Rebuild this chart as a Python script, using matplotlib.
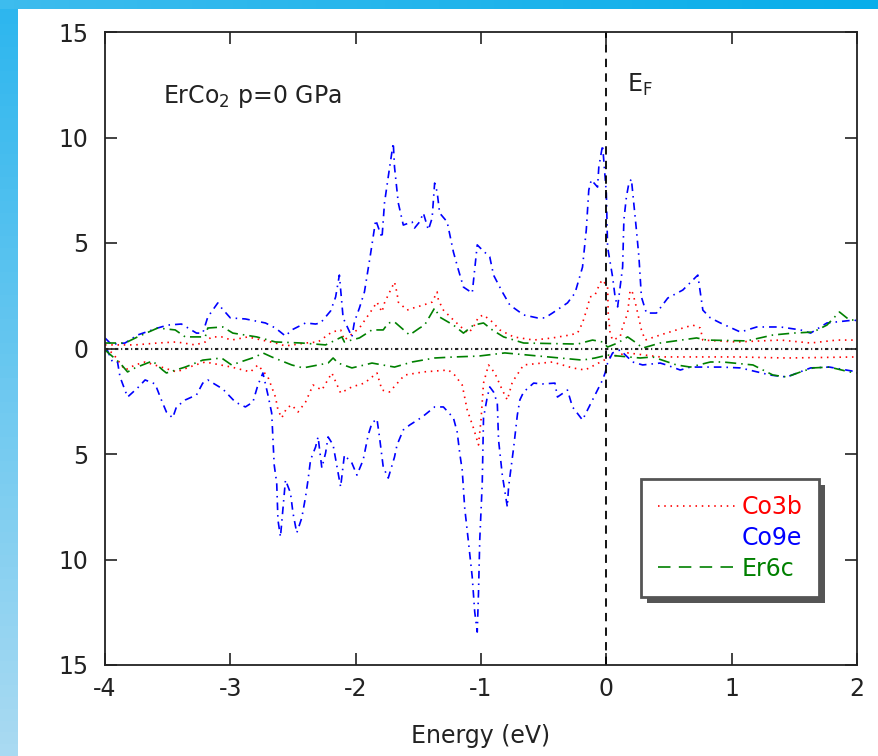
import numpy as np
import matplotlib
matplotlib.use("Agg")
import matplotlib.pyplot as plt
from matplotlib.lines import Line2D
from matplotlib.patches import Rectangle
from matplotlib.ticker import FuncFormatter

plt.rc('font', family='DejaVu Sans', size=17)
plt.rc('mathtext', default='regular')
plt.rc('lines', scale_dashes=False)
plt.rc('axes', unicode_minus=False)

# partial DOS, spin up (positive) and spin down (stored as magnitudes)
e_co9e_up = [-4.00, -3.95, -3.84, -3.74, -3.58, -3.50, -3.39, -3.27, -3.22, -3.18, -3.10, -3.07,
             -3.00, -2.88, -2.72, -2.64, -2.56, -2.51, -2.40, -2.32, -2.28, -2.20, -2.16, -2.13,
             -2.10, -2.03, -2.01, -1.97, -1.93, -1.88, -1.84, -1.79, -1.77, -1.73, -1.70, -1.69,
             -1.66, -1.62, -1.55, -1.53, -1.49, -1.46, -1.42, -1.39, -1.37, -1.35, -1.33, -1.27,
             -1.22, -1.18, -1.14, -1.07, -1.03, -0.99, -0.93, -0.90, -0.83, -0.77, -0.66, -0.55,
             -0.49, -0.43, -0.31, -0.25, -0.19, -0.16, -0.14, -0.12, -0.07, -0.06, -0.03, 0.00,
             0.01, 0.05, 0.07, 0.09, 0.13, 0.14, 0.16, 0.18, 0.20, 0.21, 0.24, 0.26, 0.28, 0.32,
             0.40, 0.49, 0.61, 0.73, 0.77, 0.83, 0.91, 1.07, 1.20, 1.39, 1.55, 1.63, 1.76, 1.98, 2.00]
co9e_up = [0.50, 0.20, 0.26, 0.64, 0.97, 1.11, 1.16, 0.73, 0.73, 1.49, 2.16, 1.92,
           1.45, 1.40, 1.21, 0.97, 0.59, 0.88, 1.21, 1.16, 1.21, 1.78, 2.44, 3.48,
           1.45, 0.55, 1.26, 1.92, 2.68, 4.53, 6.09, 5.24, 6.90, 8.55, 9.74, 8.60,
           6.90, 5.85, 6.00, 5.71, 6.00, 6.42, 5.62, 6.18, 7.84, 7.42, 6.42, 6.00,
           4.57, 3.72, 2.91, 2.63, 4.91, 4.67, 4.34, 3.48, 2.68, 2.06, 1.59, 1.45,
           1.45, 1.68, 2.16, 2.63, 3.86, 5.62, 7.51, 7.99, 7.65, 8.60, 9.64, 7.37,
           4.81, 3.39, 2.44, 1.97, 3.86, 6.09, 7.18, 7.84, 8.03, 7.42, 5.62, 4.34, 2.44, 1.68,
           1.68, 2.39, 2.77, 3.48, 1.82, 1.45, 1.21, 0.78, 1.02, 1.02, 0.88, 0.73, 1.21, 1.35, 1.30]

e_co9e_dn = [-4.00, -3.98, -3.94, -3.90, -3.88, -3.82, -3.74, -3.68, -3.60, -3.55, -3.51, -3.46,
             -3.43, -3.36, -3.27, -3.22, -3.18, -3.06, -2.96, -2.88, -2.82, -2.78, -2.74, -2.70,
             -2.67, -2.65, -2.63, -2.62, -2.60, -2.56, -2.52, -2.50, -2.47, -2.43, -2.40, -2.38,
             -2.36, -2.32, -2.30, -2.27, -2.24, -2.22, -2.18, -2.14, -2.12, -2.09, -2.03, -1.99,
             -1.94, -1.90, -1.87, -1.83, -1.81, -1.78, -1.74, -1.69, -1.67, -1.62, -1.57, -1.47,
             -1.37, -1.30, -1.22, -1.19, -1.17, -1.15, -1.13, -1.10, -1.07, -1.05, -1.03, -1.02,
             -1.01, -0.99, -0.98, -0.95, -0.93, -0.90, -0.87, -0.86, -0.83, -0.79, -0.78, -0.74,
             -0.71, -0.69, -0.66, -0.58, -0.51, -0.41, -0.39, -0.31, -0.27, -0.19, -0.15, -0.09,
             -0.03, -0.01, 0.01, 0.05, 0.11, 0.21, 0.29, 0.43, 0.48, 0.59, 0.67, 0.91, 1.07,
             1.31, 1.44, 1.63, 1.78, 2.00]
co9e_dn = [0.10, 0.10, 0.64, 0.64, 1.35, 2.30, 1.87, 1.49, 1.68, 2.44, 3.01, 3.29,
           2.77, 2.44, 2.20, 1.64, 1.49, 1.92, 2.54, 2.77, 2.54, 1.73, 1.16, 2.20,
           3.06, 5.52, 6.37, 8.13, 8.93, 6.23, 6.85, 7.80, 8.74, 8.03, 7.04, 6.23,
           5.28, 4.67, 4.19, 5.66, 4.95, 4.19, 4.57, 5.90, 6.56, 5.05, 5.43, 6.00,
           5.28, 4.10, 3.53, 3.34, 4.19, 5.62, 6.14, 5.14, 4.57, 3.86, 3.63, 3.25,
           2.77, 2.77, 3.29, 3.96, 4.95, 5.76, 7.56, 9.17, 10.83, 12.49, 13.44, 11.59,
           9.08, 6.37, 3.29, 2.30, 1.82, 2.06, 2.58, 4.34, 6.00, 7.51, 6.56, 4.72,
           3.15, 2.44, 2.06, 1.64, 1.68, 1.64, 2.30, 1.97, 2.77, 3.39, 2.91, 2.20,
           1.49, 1.16, 0.69, 0.21, 0.07, 0.64, 0.78, 0.69, 0.78, 1.02, 0.88, 0.88, 0.92,
           1.26, 1.35, 0.92, 0.88, 1.11]

e_co3b_up = [-4.00, -3.76, -3.58, -3.43, -3.28, -3.20, -3.15, -3.07, -2.99, -2.86, -2.75, -2.64,
             -2.56, -2.40, -2.30, -2.19, -2.12, -2.09, -1.97, -1.86, -1.83, -1.79, -1.77, -1.74,
             -1.69, -1.67, -1.66, -1.59, -1.54, -1.46, -1.39, -1.35, -1.34, -1.30, -1.22, -1.15,
             -1.10, -1.06, -1.02, -0.98, -0.91, -0.85, -0.74, -0.58, -0.43, -0.29, -0.23, -0.19,
             -0.15, -0.13, -0.09, -0.05, -0.03, 0.01, 0.015, 0.03, 0.05, 0.11, 0.13, 0.17, 0.19,
             0.21, 0.23, 0.25, 0.28, 0.31, 0.43, 0.56, 0.69, 0.75, 0.77, 1.04, 1.39, 1.63, 1.84, 2.00]
co3b_up = [0.17, 0.17, 0.26, 0.31, 0.17, 0.31, 0.55, 0.55, 0.40, 0.55, 0.40, 0.26,
           0.12, 0.26, 0.31, 0.78, 0.88, 0.40, 0.97, 1.92, 2.20, 1.73, 2.16, 2.54,
           3.15, 2.63, 2.20, 1.82, 1.92, 2.06, 2.20, 2.68, 2.30, 1.82, 1.35, 0.97,
           0.73, 1.02, 1.49, 1.59, 1.26, 0.88, 0.55, 0.40, 0.50, 0.64, 0.73, 1.21,
           1.97, 2.44, 2.54, 3.10, 3.25, 2.91, 1.68, 0.73, 0.40, 0.55, 1.02, 1.68, 2.77,
           2.63, 2.20, 1.68, 0.88, 0.40, 0.64, 0.88, 1.11, 0.97, 0.40, 0.31, 0.40, 0.26, 0.40, 0.40]

e_co3b_dn = [-4.00, -3.94, -3.84, -3.76, -3.68, -3.55, -3.43, -3.28, -3.20, -2.99, -2.84, -2.78,
             -2.70, -2.64, -2.62, -2.59, -2.55, -2.51, -2.46, -2.40, -2.34, -2.27, -2.19, -2.12,
             -2.03, -1.93, -1.83, -1.79, -1.73, -1.61, -1.46, -1.26, -1.21, -1.15, -1.11, -1.06,
             -1.02, -1.00, -0.98, -0.94, -0.89, -0.83, -0.79, -0.75, -0.66, -0.43, -0.27, -0.17,
             -0.03, 0.03, 0.17, 0.43, 1.04, 1.44, 2.00]
co3b_dn = [0.02, 0.21, 1.02, 0.78, 0.64, 0.88, 1.11, 0.78, 0.64, 0.88, 1.11, 0.78,
           1.35, 2.30, 2.91, 3.29, 2.82, 2.68, 3.01, 2.54, 1.73, 1.97, 1.16, 2.11,
           1.82, 1.64, 1.16, 1.97, 2.06, 1.26, 1.11, 1.02, 1.26, 1.73, 2.91, 3.77,
           4.57, 3.39, 1.64, 0.78, 1.16, 1.97, 2.44, 1.59, 0.78, 0.64, 0.92, 1.02,
           0.59, 0.40, 0.21, 0.40, 0.40, 0.45, 0.40]

e_er6c_up = [-4.00, -3.84, -3.74, -3.58, -3.44, -3.36, -3.20, -3.18, -3.06, -2.98, -2.79, -2.64,
             -2.43, -2.24, -2.16, -2.11, -2.09, -1.97, -1.87, -1.78, -1.74, -1.69, -1.57, -1.49,
             -1.45, -1.37, -1.33, -1.22, -1.14, -1.06, -0.98, -0.91, -0.82, -0.66, -0.23, -0.11,
             -0.03, 0.01, 0.09, 0.17, 0.24, 0.29, 0.43, 0.72, 0.80, 1.12, 1.33, 1.49, 1.65, 1.76,
             1.86, 1.94, 2.00]
er6c_up = [0.26, 0.26, 0.55, 0.97, 0.88, 0.55, 0.55, 0.97, 1.02, 0.73, 0.55, 0.31,
           0.26, 0.17, 0.40, 0.55, 0.31, 0.50, 0.88, 0.88, 1.21, 1.26, 0.64, 0.97,
           1.11, 1.92, 1.49, 1.11, 0.73, 1.11, 1.21, 0.88, 0.55, 0.26, 0.21, 0.40,
           0.31, 0.07, 0.26, 0.55, 0.26, 0.02, 0.26, 0.50, 0.40, 0.36, 0.64, 0.73, 0.78, 1.11,
           1.73, 1.35, 1.35]

e_er6c_dn = [-4.00, -3.88, -3.82, -3.76, -3.62, -3.54, -3.51, -3.36, -3.22, -3.07, -2.99, -2.80,
             -2.74, -2.67, -2.51, -2.42, -2.22, -2.18, -2.14, -2.03, -1.93, -1.87, -1.69, -1.55,
             -1.37, -1.21, -1.02, -0.81, -0.37, -0.19, -0.09, 0.01, 0.27, 0.37, 0.56, 0.67, 0.83,
             0.93, 1.17, 1.33, 1.44, 1.55, 1.65, 1.78, 1.94, 2.00]
er6c_dn = [0.07, 0.69, 1.11, 0.92, 0.59, 1.02, 1.16, 0.88, 0.55, 0.45, 0.78, 0.40,
           0.21, 0.40, 0.78, 0.92, 0.69, 0.45, 0.69, 0.92, 0.78, 0.69, 0.88, 0.64,
           0.45, 0.40, 0.36, 0.21, 0.45, 0.55, 0.45, 0.31, 0.45, 0.40, 0.78, 0.88, 0.64,
           0.64, 0.78, 1.26, 1.35, 1.11, 0.92, 0.88, 1.11, 1.16]

labels = ['Co3b', 'Co9e', 'Er6c']
colors = ['red', 'blue', 'green']

fig = plt.figure(figsize=(8.79, 7.56), dpi=100)

# slide background strips
strip_left = fig.add_axes([0, 0, 18 / 879, 1])
strip_left.imshow(np.linspace(0, 1, 64).reshape(-1, 1), aspect='auto',
                  cmap=matplotlib.colors.LinearSegmentedColormap.from_list('l', ['#2db6ee', '#a9daf2']))
strip_left.axis('off')
strip_top = fig.add_axes([0, 1 - 9 / 756, 1, 9 / 756])
strip_top.imshow(np.linspace(0, 1, 64).reshape(1, -1), aspect='auto',
                 cmap=matplotlib.colors.LinearSegmentedColormap.from_list('t', ['#3dbcee', '#08aeea']))
strip_top.axis('off')

ax = fig.add_axes([105 / 879, 1 - 665 / 756, 752 / 879, 633 / 756])

red_ls = (0, (1.1, 3.4))
blue_ls = (0, (5.5, 3.6, 1.1, 3.6))
green_ls = (0, (8.0, 3.6, 1.1, 3.6))

ax.plot(e_co3b_up, co3b_up, color='red', lw=1.2, ls=red_ls)
ax.plot(e_co3b_dn, -np.array(co3b_dn), color='red', lw=1.2, ls=red_ls)
ax.plot(e_co9e_up, co9e_up, color='blue', lw=1.2, ls=blue_ls)
ax.plot(e_co9e_dn, -np.array(co9e_dn), color='blue', lw=1.2, ls=blue_ls)
ax.plot(e_er6c_up, er6c_up, color='green', lw=1.2, ls=green_ls)
ax.plot(e_er6c_dn, -np.array(er6c_dn), color='green', lw=1.2, ls=green_ls)

ax.axhline(0, color='#222', lw=1.5, ls=(0, (2.4, 2.0, 0.8, 2.0)))
ax.axvline(0, color='black', lw=1.3, ls=(0, (6, 4.5)))

ax.set_xlim(-4, 2)
ax.set_ylim(-15, 15)
ax.set_xticks(range(-4, 3))
ax.set_yticks(range(-15, 16, 5))
ax.yaxis.set_major_formatter(FuncFormatter(lambda v, p: f"{abs(int(v))}"))
ax.tick_params(direction='in', length=8.6, width=1.2, top=True, right=True, colors='#222')
ax.tick_params(axis='y', pad=12)
ax.tick_params(axis='x', pad=9)
for s in ax.spines.values():
    s.set_linewidth(1.3)
    s.set_color('#222')

ax.set_xlabel('Energy (eV)', color='#222', labelpad=16)
ax.text(-3.537, 11.63, 'ErCo$_2$ p=0 GPa', va='baseline', color='#222')
ax.text(0.168, 12.16, 'E$_F$', va='baseline', color='#222')

handles = [Line2D([], [], color='red', lw=1.2, ls=red_ls),
           Line2D([], [], color='blue', ls='none'),
           Line2D([], [], color='green', lw=1.2, ls=(0, (9, 6)))]
leg = ax.legend(handles, labels, loc='upper left', bbox_to_anchor=(0.713, 0.294),
                borderaxespad=0, fancybox=False, framealpha=1, edgecolor='#555',
                handlelength=3.4, handletextpad=0.15, labelspacing=0.28, borderpad=0.7,
                labelcolor=colors)
leg.get_frame().set_linewidth(2)
leg.set_zorder(5)

# drop shadow behind the legend frame
fig.canvas.draw()
bb = leg.get_window_extent()
fig.patches.append(Rectangle((bb.x0 + 6, bb.y0 - 6), bb.width, bb.height,
                             transform=None, facecolor='#555', edgecolor='none',
                             zorder=0.5, figure=fig))
ax.set_zorder(1)
ax.patch.set_alpha(0)

fig.savefig('out.png', dpi=100)
